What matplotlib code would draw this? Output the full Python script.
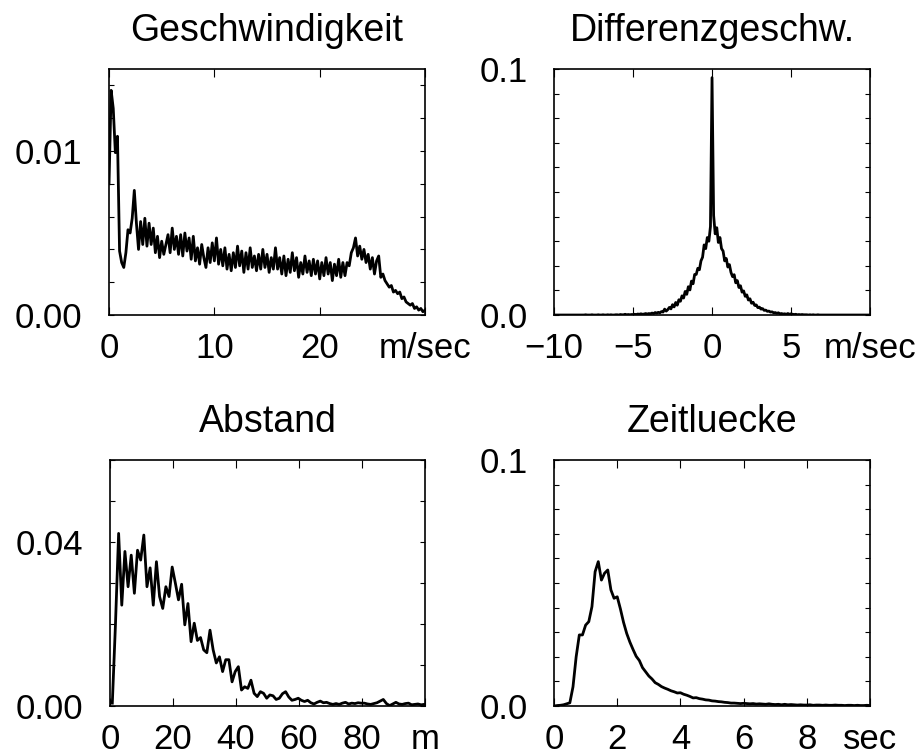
import numpy as np
import matplotlib
matplotlib.use('Agg')
from matplotlib import pyplot as plt

plt.rcParams['font.family'] = ['Liberation Sans', 'DejaVu Sans']

# Geschwindigkeit: density per 0.2 m/sec bin (values in 1e-3)
speed_bins = np.arange(0, 30.01, 0.2)
speed_density = np.array([
    8.0, 13.7, 12.6, 9.9, 10.9, 3.9, 3.2, 2.9, 3.8, 5.2,
    5.0, 5.9, 7.6, 5.6, 4.0, 5.7, 4.3, 5.9, 4.2, 5.6,
    4.3, 5.3, 3.8, 4.8, 3.5, 4.5, 3.7, 4.3, 4.9, 3.8,
    5.3, 4.0, 4.8, 3.7, 4.9, 3.6, 5.0, 3.9, 4.7, 3.4,
    4.8, 3.3, 4.1, 3.1, 4.3, 3.5, 2.9, 4.1, 3.2, 4.4,
    3.3, 4.7, 3.1, 4.0, 3.0, 4.1, 2.8, 3.7, 2.7, 3.8,
    2.9, 4.2, 3.0, 3.9, 2.6, 3.8, 2.8, 4.1, 2.9, 3.6,
    2.7, 3.7, 2.8, 4.0, 2.9, 3.7, 2.6, 3.5, 2.8, 4.1,
    2.8, 3.5, 2.5, 3.6, 2.4, 3.4, 2.6, 3.8, 2.7, 3.5,
    2.3, 3.2, 2.5, 3.6, 2.6, 3.3, 2.4, 3.4, 2.5, 3.3,
    2.2, 3.2, 2.4, 3.5, 2.5, 3.2, 2.1, 3.1, 2.4, 3.4,
    2.3, 3.2, 2.4, 3.2, 3.0, 3.8, 4.1, 4.7, 3.6, 4.2,
    3.4, 4.0, 3.2, 3.7, 2.8, 3.5, 2.5, 3.3, 3.6, 2.3,
    2.5, 2.1, 1.9, 1.7, 1.8, 1.4, 1.5, 1.3, 1.4, 1.0,
    1.1, 0.8, 0.7, 0.6, 0.7, 0.4, 0.5, 0.3, 0.4, 0.2,
    0.3,
]) * 1e-3

# Differenzgeschw.: density per 0.1 m/sec bin (values in 1e-3)
diff_bins = np.arange(-10, 10.001, 0.1)
diff_density = np.array([
    0, 0, 0, 0, 0, 0, 0, 0, 0, 0,
    0, 0, 0, 0, 0, 0, 0, 0, 0, 0,
    0.1, 0, 0, 0, 0.1, 0, 0, 0, 0.1, 0,
    0, 0.1, 0, 0, 0.1, 0, 0.1, 0, 0, 0.1,
    0.1, 0, 0.2, 0.1, 0.1, 0.3, 0.1, 0.2, 0.1, 0.2,
    0.2, 0.3, 0.2, 0.4, 0.3, 0.5, 0.3, 0.4, 0.6, 0.4,
    0.6, 0.5, 0.8, 0.6, 1.0, 0.8, 1.1, 0.9, 1.4, 1.2,
    2.4, 1.6, 2.2, 3.1, 2.5, 4.2, 3.3, 5.1, 4.0, 6.2,
    5.6, 7.8, 6.9, 9.6, 8.4, 11.5, 10.2, 13.8, 12.7, 16.5,
    16.5, 19.0, 18.4, 22.0, 23.5, 28.5, 27.0, 31.5, 30.0, 36.0,
    96.5, 40.5, 33.0, 35.5, 29.5, 31.5, 27.0, 26.0, 22.0, 23.0,
    19.5, 20.5, 17.3, 15.6, 16.4, 13.1, 14.0, 11.2, 11.9, 9.3,
    9.8, 7.6, 8.2, 6.1, 6.6, 4.8, 5.2, 3.9, 4.1, 3.0,
    3.2, 2.4, 2.6, 1.9, 2.0, 1.5, 1.6, 1.2, 1.3, 0.9,
    1.0, 0.7, 0.9, 0.5, 0.6, 0.4, 0.5, 0.3, 0.6, 0.3,
    0.5, 0.3, 0.2, 0.3, 0.1, 0.2, 0.1, 0.2, 0.1, 0.1,
    0.1, 0, 0.1, 0, 0.1, 0, 0, 0.1, 0, 0,
    0, 0, 0, 0, 0, 0, 0, 0, 0, 0,
    0, 0, 0, 0, 0, 0, 0, 0, 0, 0,
    0, 0, 0, 0, 0, 0, 0, 0, 0, 0,
    0,
]) * 1e-3

# Abstand: density per 1 m bin (values in 1e-3)
gap_bins = np.arange(0.75, 100, 1.0)
gap_density = np.array([
    0.7, 20.0, 42.1, 24.6, 37.7, 29.1, 36.8, 27.5, 38.0, 35.6,
    41.7, 29.1, 33.7, 24.6, 35.2, 26.7, 23.8, 29.1, 26.7, 33.9,
    30.0, 25.9, 29.7, 19.8, 25.0, 15.7, 20.2, 16.0, 16.7, 13.7,
    13.0, 18.5, 13.7, 10.5, 12.0, 8.4, 11.3, 11.3, 5.9, 8.4,
    9.6, 3.9, 4.7, 4.3, 6.3, 3.1, 2.3, 3.5, 3.1, 1.9,
    2.7, 2.5, 1.6, 1.9, 3.0, 3.5, 2.2, 1.4, 1.6, 1.9,
    1.4, 1.1, 1.4, 0.8, 0.5, 0.9, 1.2, 0.8, 0.9, 0.6,
    0.4, 0.6, 0.4, 0.7, 0.9, 0.5, 0.7, 0.6, 0.8, 0.7,
    0.7, 0.5, 0.4, 0.6, 0.8, 1.2, 1.6, 0.6, 0.1, 0.5,
    0.9, 0.5, 0.4, 0.6, 0.7, 0.3, 0.4, 0.5, 0.3, 0.4,
]) * 1e-3

# Zeitluecke: density per 0.1 sec bin (values in 1e-3)
time_bins = np.arange(0, 10.001, 0.1)
time_density = np.array([
    0.0, 0.2, 0.3, 0.5, 0.9, 1.3, 7.8, 20.0, 28.9, 28.9,
    32.9, 34.3, 40.4, 54.6, 58.7, 51.2, 54.0, 55.3, 47.2, 43.8,
    44.4, 39.5, 34.0, 29.5, 26.0, 23.0, 20.2, 18.5, 15.6, 13.9,
    12.2, 11.0, 9.5, 8.8, 7.9, 7.3, 6.8, 6.2, 5.8, 5.3,
    5.4, 4.8, 4.4, 3.9, 3.3, 3.4, 3.0, 2.8, 2.5, 2.4,
    2.1, 2.0, 1.8, 1.7, 1.5, 1.4, 1.2, 1.2, 1.1, 1.0,
    1.1, 1.0, 0.9, 1.0, 0.8, 0.9, 0.8, 0.7, 0.9, 0.7,
    0.6, 0.7, 0.5, 0.7, 0.5, 0.6, 0.5, 0.4, 0.5, 0.4,
    0.4, 0.5, 0.3, 0.4, 0.4, 0.3, 0.4, 0.3, 0.3, 0.4,
    0.3, 0.3, 0.2, 0.3, 0.3, 0.2, 0.3, 0.2, 0.2, 0.3,
    0.2,
]) * 1e-3

FS = 25

fig = plt.figure(figsize=(9.24, 7.56), dpi=100)
ax1 = fig.add_axes([0.118, 0.5833, 0.342, 0.3254])
ax2 = fig.add_axes([0.5996, 0.5833, 0.342, 0.3254])
ax3 = fig.add_axes([0.119, 0.0661, 0.341, 0.3254])
ax4 = fig.add_axes([0.5996, 0.0661, 0.342, 0.3254])


def style(ax, title, xlim, xticks, xlabels, ylim, yticks, ylabels):
    ax.set_xlim(*xlim)
    ax.set_ylim(*ylim)
    ax.set_xticks(xticks)
    ax.set_xticklabels(xlabels)
    ax.set_yticks(yticks)
    ax.set_yticklabels(ylabels)
    ax.tick_params(axis='x', direction='in', top=True, length=6, width=0.8,
                   pad=12, labelsize=FS)
    ax.tick_params(axis='y', direction='in', right=True, length=3.5, width=0.8,
                   pad=19, labelsize=FS)
    for s in ax.spines.values():
        s.set_linewidth(1.2)
    ax.set_title(title, fontsize=27, pad=20)


ax1.plot(speed_bins, speed_density, color='black', lw=2.0)
style(ax1, 'Geschwindigkeit', (0, 30), [0, 10, 20, 30], ['0', '10', '20', 'm/sec'],
      (0, 0.015), np.arange(0, 0.0141, 0.002),
      ['0.00', '', '', '', '', '0.01', '', ''])

ax2.plot(diff_bins, diff_density, color='black', lw=2.0)
style(ax2, 'Differenzgeschw.', (-10, 10), [-10, -5, 0, 5, 10],
      ['\u221210', '\u22125', '0', '5', 'm/sec'],
      (0, 0.1), np.arange(0, 0.1001, 0.01),
      ['0.0'] + [''] * 9 + ['0.1'])

ax3.plot(gap_bins, gap_density, color='black', lw=2.0)
style(ax3, 'Abstand', (0, 100), [0, 20, 40, 60, 80, 100],
      ['0', '20', '40', '60', '80', 'm'],
      (0, 0.06), np.arange(0, 0.0601, 0.01),
      ['0.00', '', '', '', '0.04', '', ''])

ax4.plot(time_bins, time_density, color='black', lw=2.0)
style(ax4, 'Zeitluecke', (0, 10), [0, 2, 4, 6, 8, 10],
      ['0', '2', '4', '6', '8', 'sec'],
      (0, 0.1), np.arange(0, 0.1001, 0.01),
      ['0.0'] + [''] * 9 + ['0.1'])

fig.savefig('out.png', dpi=100)
